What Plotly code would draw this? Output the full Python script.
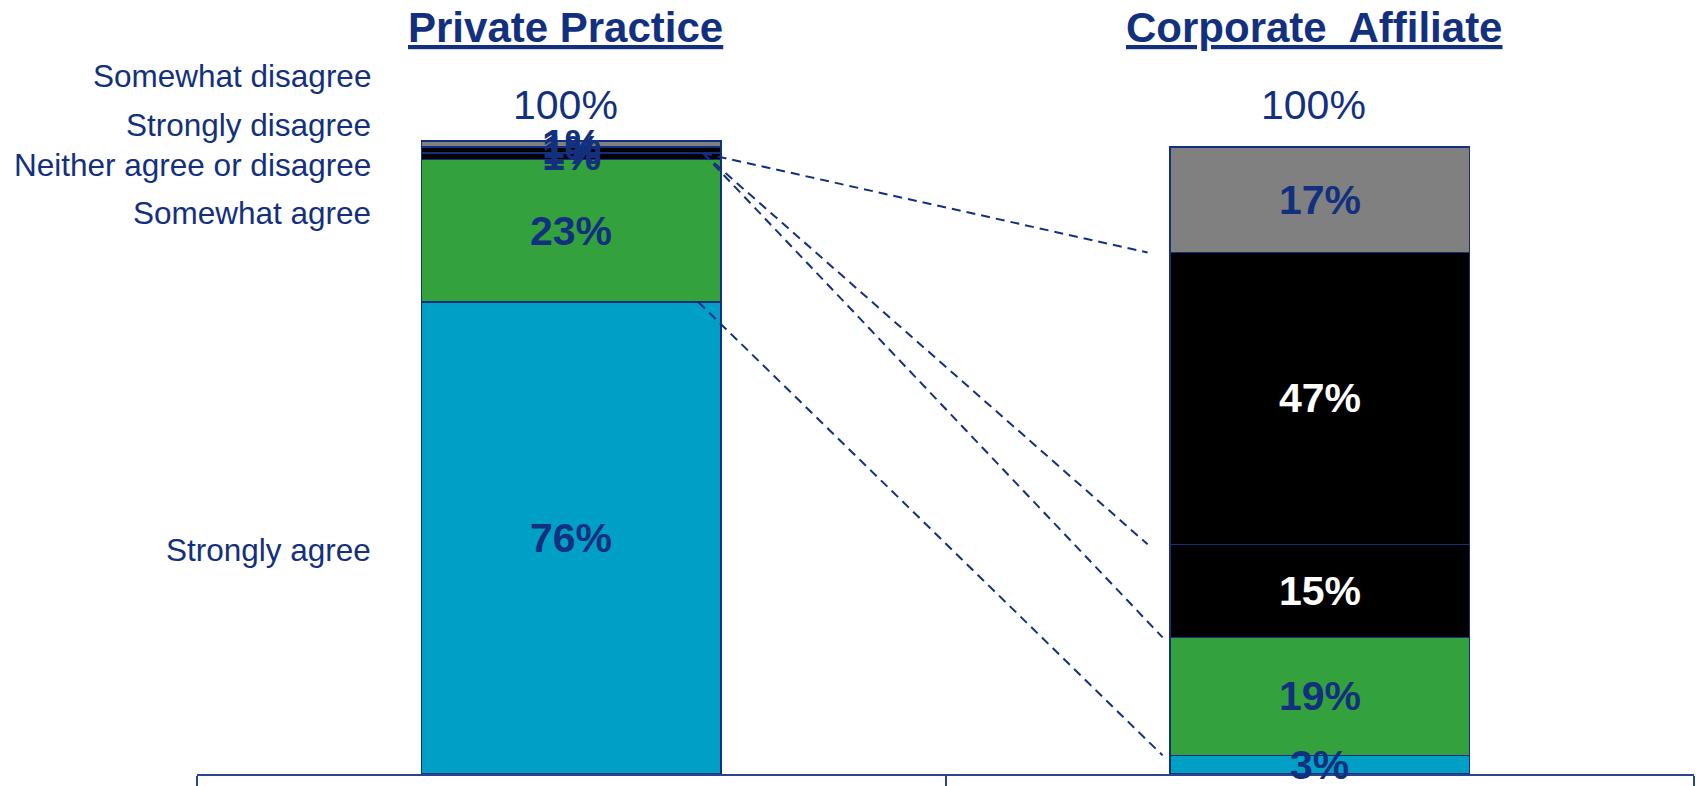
import numpy as np
import plotly.graph_objects as go

# ---- data -------------------------------------------------------------
GROUPS = ["Private Practice", "Corporate  Affiliate"]
RESPONSES = [
    "Strongly agree",
    "Somewhat agree",
    "Neither agree or disagree",
    "Strongly disagree",
    "Somewhat disagree",
]
PRIVATE = [76, 23, 1, 1, 1]
CORPORATE = [3, 19, 15, 47, 17]
TOTALS = ["100%", "100%"]

# ---- style ------------------------------------------------------------
W, H = 1696, 786
NAVY = "#13307F"
FONT = "Arial, Liberation Sans, sans-serif"
SEG_COLORS = ["#00A0C6", "#33A23D", "#000000", "#000000", "#808080"]
MARGIN_L, MARGIN_R = 197, 2
PLOT_BOTTOM = 777          # pixel row of the value axis baseline
PX_PER_UNIT = 6.232        # vertical scale of the stacks
BAR_WIDTH = 0.4

# left-hand response captions (pixel rows of their centres)
CAPTION_Y_PX = [552, 214, 166, 125, 76.5]
CAPTION_RIGHT_PX = 373
TITLE_Y_PX = 28
TOTAL_Y_PX = 105

# guide lines: (stack boundary on the left bar, stack boundary on the right bar, end x)
CONNECTORS = [(3, 4, 0.770), (3, 3, 0.770), (3, 2, 0.790), (1, 1, 0.790)]
CONNECTOR_START_X = [0.176, 0.176, 0.176, 0.170]

plot_h = PLOT_BOTTOM
plot_w = W - MARGIN_L - MARGIN_R
y_top = plot_h / PX_PER_UNIT


def py(px):
    """Pixel row -> paper fraction inside the plot area."""
    return (PLOT_BOTTOM - px) / plot_h


def px_x(px):
    """Pixel column -> paper fraction inside the plot area."""
    return (px - MARGIN_L) / plot_w


values = np.array([PRIVATE, CORPORATE], dtype=float)  # groups x responses
cum = np.cumsum(values, axis=1)

fig = go.Figure()
for j, resp in enumerate(RESPONSES):
    fig.add_trace(
        go.Bar(
            x=GROUPS,
            y=values[:, j],
            name=resp,
            width=BAR_WIDTH,
            marker=dict(color=SEG_COLORS[j], line=dict(color=NAVY, width=1.5)),
            hoverinfo="skip",
            showlegend=False,
        )
    )

annotations = []

# segment value labels
for i, g in enumerate(GROUPS):
    for j in range(len(RESPONSES)):
        v = values[i, j]
        mid = cum[i, j] - v / 2
        white = SEG_COLORS[j] == "#000000" and v >= 5
        annotations.append(
            dict(
                x=g, y=mid, xref="x", yref="y",
                text=f"<b>{int(v)}%</b>", showarrow=False,
                font=dict(family=FONT, size=41, color="white" if white else NAVY),
                xanchor="center", yanchor="middle",
            )
        )

# group titles and totals
for i, g in enumerate(GROUPS):
    annotations.append(
        dict(
            x=g, y=py(TITLE_Y_PX), xref="x", yref="paper",
            text=f"<b><u>{g}</u></b>", showarrow=False, xshift=-6,
            font=dict(family=FONT, size=42, color=NAVY),
            xanchor="center", yanchor="middle",
        )
    )
    annotations.append(
        dict(
            x=g, y=py(TOTAL_Y_PX), xref="x", yref="paper",
            text=TOTALS[i], showarrow=False, xshift=-6,
            font=dict(family=FONT, size=41, color=NAVY),
            xanchor="center", yanchor="middle",
        )
    )

# response captions on the left
for resp, ypx in zip(RESPONSES, CAPTION_Y_PX):
    annotations.append(
        dict(
            x=px_x(CAPTION_RIGHT_PX), y=py(ypx), xref="paper", yref="paper",
            text=resp, showarrow=False,
            font=dict(family=FONT, size=31.5, color=NAVY),
            xanchor="right", yanchor="middle",
        )
    )

# dashed guide lines between the two stacks
shapes = []
for (lb, rb, x_end), x_start in zip(CONNECTORS, CONNECTOR_START_X):
    shapes.append(
        dict(
            type="line", xref="x", yref="y",
            x0=x_start, y0=cum[0, lb - 1] if lb > 0 else 0,
            x1=x_end, y1=cum[1, rb - 1] if rb > 0 else 0,
            line=dict(color=NAVY, width=2, dash="9px,6px"),
        )
    )

fig.update_layout(
    width=W,
    height=H,
    barmode="stack",
    margin=dict(l=MARGIN_L, r=MARGIN_R, t=0, b=H - PLOT_BOTTOM),
    paper_bgcolor="white",
    plot_bgcolor="white",
    font=dict(family=FONT, color=NAVY),
    annotations=annotations,
    shapes=shapes,
    xaxis=dict(
        type="category",
        range=[-0.5, 1.5],
        showline=True,
        linecolor="#2A4590",
        linewidth=2,
        ticks="outside",
        tickson="boundaries",
        ticklen=12,
        tickwidth=1.5,
        tickcolor="#2A4590",
        showticklabels=False,
        showgrid=False,
        zeroline=False,
        fixedrange=True,
    ),
    yaxis=dict(
        range=[0, y_top],
        visible=False,
        showgrid=False,
        zeroline=False,
        fixedrange=True,
    ),
)

fig.write_html("out.html", config={"displayModeBar": False})
